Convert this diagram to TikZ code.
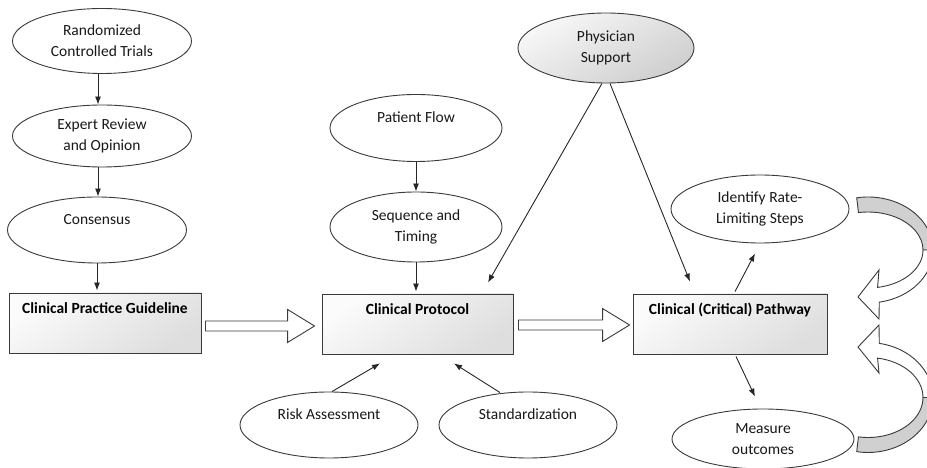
\documentclass[tikz,border=0pt]{standalone}
\usepackage{fontspec}
\setmainfont{Carlito}
\usetikzlibrary{shapes.geometric,calc,arrows.meta}
\definecolor{edge}{HTML}{3A3A3A}
\definecolor{bandgray}{HTML}{D0D0D0}
\begin{document}
\begin{tikzpicture}[x=1pt,y=1pt,
  every node/.style={font=\fontsize{15.5}{21}\selectfont, text=black!90},
  ell/.style={ellipse, draw=edge, line width=0.9pt, fill=white, inner sep=0pt,
    minimum width=179pt, minimum height=66pt, align=center},
  gell/.style={ell, fill=none, shading=axis, top color=gray!6, bottom color=gray!38, shading angle=30},
  box/.style={rectangle, draw=edge, line width=0.9pt, inner sep=0pt,
    minimum width=192pt, minimum height=60pt,
    shading=axis, top color=gray!3, bottom color=gray!26, shading angle=35},
  boxtext/.style={font=\fontsize{15.5}{21}\selectfont\bfseries, text=black},
  conn/.style={draw=black!85, line width=0.9pt, -{Latex[length=8pt,width=6pt]}},
  blockarr/.style={draw=edge, line width=0.9pt, fill=white},
  curvedarr/.style={draw=edge, line width=0.9pt},
]
\useasboundingbox (0,0) rectangle (927,468);

% left column
\node[ell, minimum height=65pt] (rct) at (102,427) {Randomized\\Controlled Trials};
\node[ell, minimum height=62pt] (exp) at (102,332) {Expert Review\\and Opinion};
\node[ell] (cons) at (97,238) {Consensus\\\mbox{}};
\node[box] (cpg) at (105,145) {};
\node[boxtext] (cpgt) at ($(cpg.north)+(0,-16)$) {Clinical Practice Guideline};

% middle column
\node[ell, minimum width=172pt, minimum height=67pt] (pf) at (416,340) {Patient Flow\\\mbox{}};
\node[ell, minimum width=172pt, minimum height=70pt] (seq) at (416,241) {Sequence and\\Timing};
\node[box, minimum width=191pt] (cp) at (417.5,144) {};
\node[boxtext] (cpt) at ($(cp.north)+(0,-16)$) {Clinical Protocol};
\node[ell, minimum width=178pt] (risk) at (329,43) {Risk Assessment\\\mbox{}};
\node[ell, minimum width=178pt] (std) at (528,43) {Standardization\\\mbox{}};

% right column
\node[gell, minimum width=176pt, minimum height=70pt] (phys) at (606,420) {Physician\\Support};
\node[box, minimum width=194pt] (path) at (730,144) {};
\node[boxtext] (patht) at ($(path.north)+(0,-16)$) {Clinical (Critical) Pathway};
\node[ell, minimum width=178pt, minimum height=68pt] (ident) at (760,259) {Identify Rate-\\Limiting Steps};
\node[ell, minimum width=182pt, minimum height=60pt] (meas) at (763,29) {Measure\\outcomes};

% vertical connectors
\draw[conn] ([xshift=-4pt]rct.south) -- ([xshift=-4pt]exp.north);
\draw[conn] ([xshift=-4pt]exp.south) -- ([xshift=-4pt]exp.south |- cons.north);
\draw[conn] (cons.south) -- ([yshift=2pt]cons.south |- cpg.north);
\draw[conn] (pf.south) -- (seq.north);
\draw[conn] (seq.south) -- ([yshift=2pt]seq.south |- cp.north);

% diagonal connectors
\draw[conn] ([xshift=-4pt]phys.south) -- ([shift={(70.5pt,11pt)}]cp.north);
\draw[conn] ([xshift=4pt]phys.south) -- ([shift={(-40pt,12pt)}]path.north);
\draw[conn] ([xshift=3pt]risk.north) -- ([shift={(-37.5pt,-9pt)}]cp.south);
\draw[conn] ([xshift=-28pt,yshift=-1pt]std.north) -- ([shift={(36.5pt,-9pt)}]cp.south);
\draw[conn] ([shift={(5pt,2pt)}]path.north) -- ([shift={(-5pt,-10pt)}]ident.south);
\draw[conn] ([shift={(6pt,-2pt)}]path.south) -- ([shift={(-8pt,12pt)}]meas.north);

% block arrows
\path let \p1=($(cpg.east)+(4pt,-3pt)$), \p2=($(cp.west)+(-7pt,-3pt)$) in
  [blockarr] (\x1,\y1+5pt) -- (\x2-27pt,\y1+5pt) -- (\x2-27pt,\y1+16.5pt) -- (\x2,\y1)
  -- (\x2-27pt,\y1-16.5pt) -- (\x2-27pt,\y1-5pt) -- (\x1,\y1-5pt) -- cycle;
\path let \p1=($(cp.east)+(5pt,-1pt)$), \p2=($(path.west)+(-3pt,-1pt)$) in
  [blockarr] (\x1,\y1+5pt) -- (\x2-27pt,\y1+5pt) -- (\x2-27pt,\y1+16.5pt) -- (\x2,\y1)
  -- (\x2-27pt,\y1-16.5pt) -- (\x2-27pt,\y1-5pt) -- (\x1,\y1-5pt) -- cycle;

% curved arrows on the right
\begin{scope}
\clip (0,0) rectangle (927,468);
% top curved arrow
\filldraw[curvedarr, fill=bandgray] (856.71,270.2) arc[start angle=100, end angle=0, x radius=65pt, y radius=53pt]
  -- (923,218) arc[start angle=0, end angle=100, x radius=55pt, y radius=38pt] -- cycle;
\filldraw[curvedarr, fill=white] (933,218) arc[start angle=0, end angle=-80, x radius=65pt, y radius=53pt]
  -- (879,149) -- (858,171) -- (879,198) -- (877.55,180.58)
  arc[start angle=-80, end angle=0, x radius=55pt, y radius=38pt] -- cycle;
% bottom curved arrow
\filldraw[curvedarr, fill=bandgray] (933,70.5) arc[start angle=0, end angle=-100, x radius=65pt, y radius=55pt]
  -- (858.45,31.11) arc[start angle=-100, end angle=0, x radius=55pt, y radius=40pt] -- cycle;
\filldraw[curvedarr, fill=white] (923,70.5) arc[start angle=0, end angle=80, x radius=55pt, y radius=40pt]
  -- (879,95) -- (858,121) -- (879,143) -- (879.29,124.66)
  arc[start angle=80, end angle=0, x radius=65pt, y radius=55pt] -- cycle;
\end{scope}
\end{tikzpicture}
\end{document}
